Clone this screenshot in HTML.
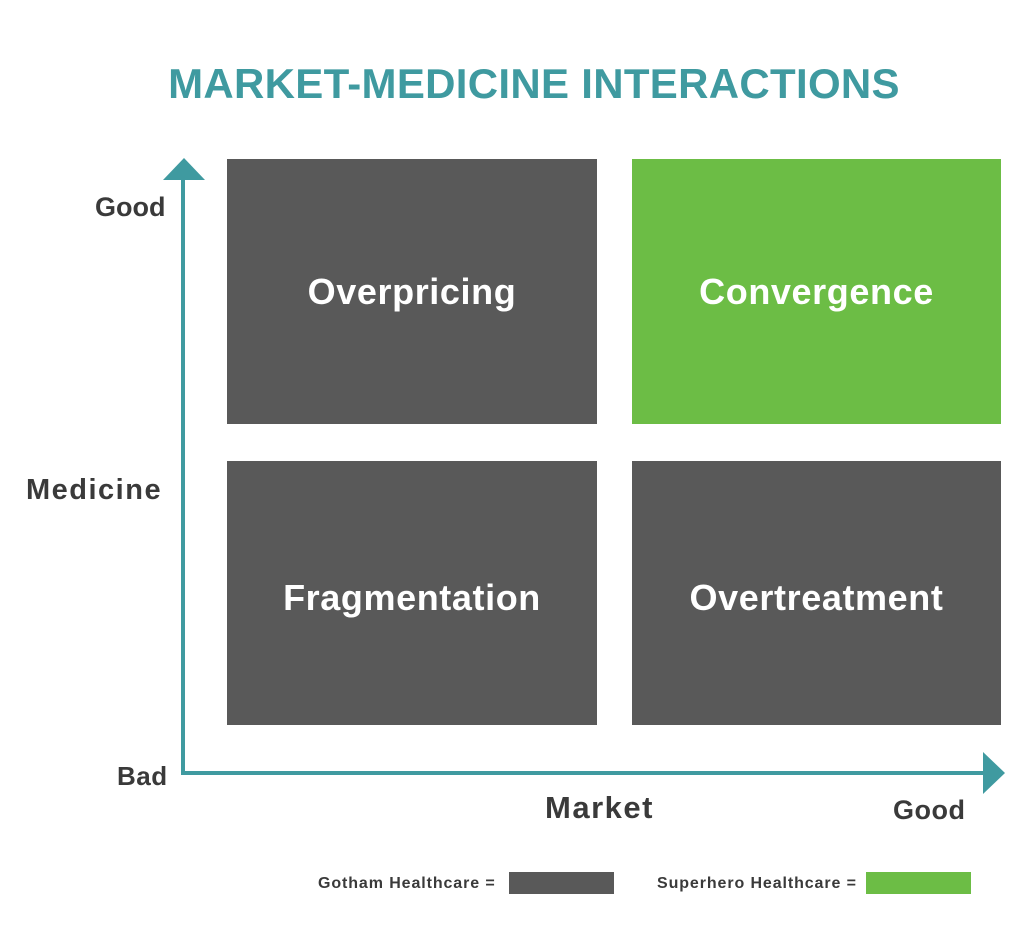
<!DOCTYPE html>
<html><head><meta charset="utf-8"><style>
body{margin:0;width:1024px;height:933px;background:#fff;position:relative;overflow:hidden;font-family:"Liberation Sans",Arial,sans-serif;font-weight:bold}
.a{position:absolute}
.box{position:absolute;display:flex;justify-content:center;color:#fff;font-size:36px;background:#595959;align-items:flex-start;box-sizing:border-box;letter-spacing:0.6px}
.t{position:absolute;color:#3a3a3a;white-space:nowrap}
</style></head><body>
<div class="a" style="left:0;width:1068px;top:60px;text-align:center;color:#3f9aa0;font-size:42px;letter-spacing:0.3px">MARKET-MEDICINE INTERACTIONS</div>
<div class="box" style="left:227px;top:159px;width:370px;height:265px;padding-top:112px">Overpricing</div>
<div class="box" style="left:632px;top:159px;width:369px;height:265px;background:#6cbd45;padding-top:112px">Convergence</div>
<div class="box" style="left:227px;top:461px;width:370px;height:264px;padding-top:116px">Fragmentation</div>
<div class="box" style="left:632px;top:461px;width:369px;height:264px;padding-top:116px">Overtreatment</div>
<svg class="a" style="left:0;top:0" width="1024" height="933">
<line x1="183" y1="176" x2="183" y2="775" stroke="#3f9aa0" stroke-width="4"/>
<line x1="181" y1="773" x2="986" y2="773" stroke="#3f9aa0" stroke-width="4"/>
<polygon points="184,158 163,180 205,180" fill="#3f9aa0"/>
<polygon points="1005,773 983,752 983,794" fill="#3f9aa0"/>
</svg>
<div class="t" style="left:95px;top:192px;font-size:27px">Good</div>
<div class="t" style="left:26px;top:474px;font-size:29px;letter-spacing:1.5px">Medicine</div>
<div class="t" style="left:117px;top:761px;font-size:26px;letter-spacing:0.5px">Bad</div>
<div class="t" style="left:545px;top:790px;font-size:31px;letter-spacing:1.5px">Market</div>
<div class="t" style="left:893px;top:795px;font-size:27px;letter-spacing:0.5px">Good</div>
<div class="t" style="left:318px;top:875px;font-size:16px;letter-spacing:0.9px">Gotham Healthcare =</div>
<div class="a" style="left:509px;top:872px;width:105px;height:22px;background:#595959"></div>
<div class="t" style="left:657px;top:875px;font-size:16px;letter-spacing:0.9px">Superhero Healthcare =</div>
<div class="a" style="left:866px;top:872px;width:105px;height:22px;background:#6cbd45"></div>
</body></html>
